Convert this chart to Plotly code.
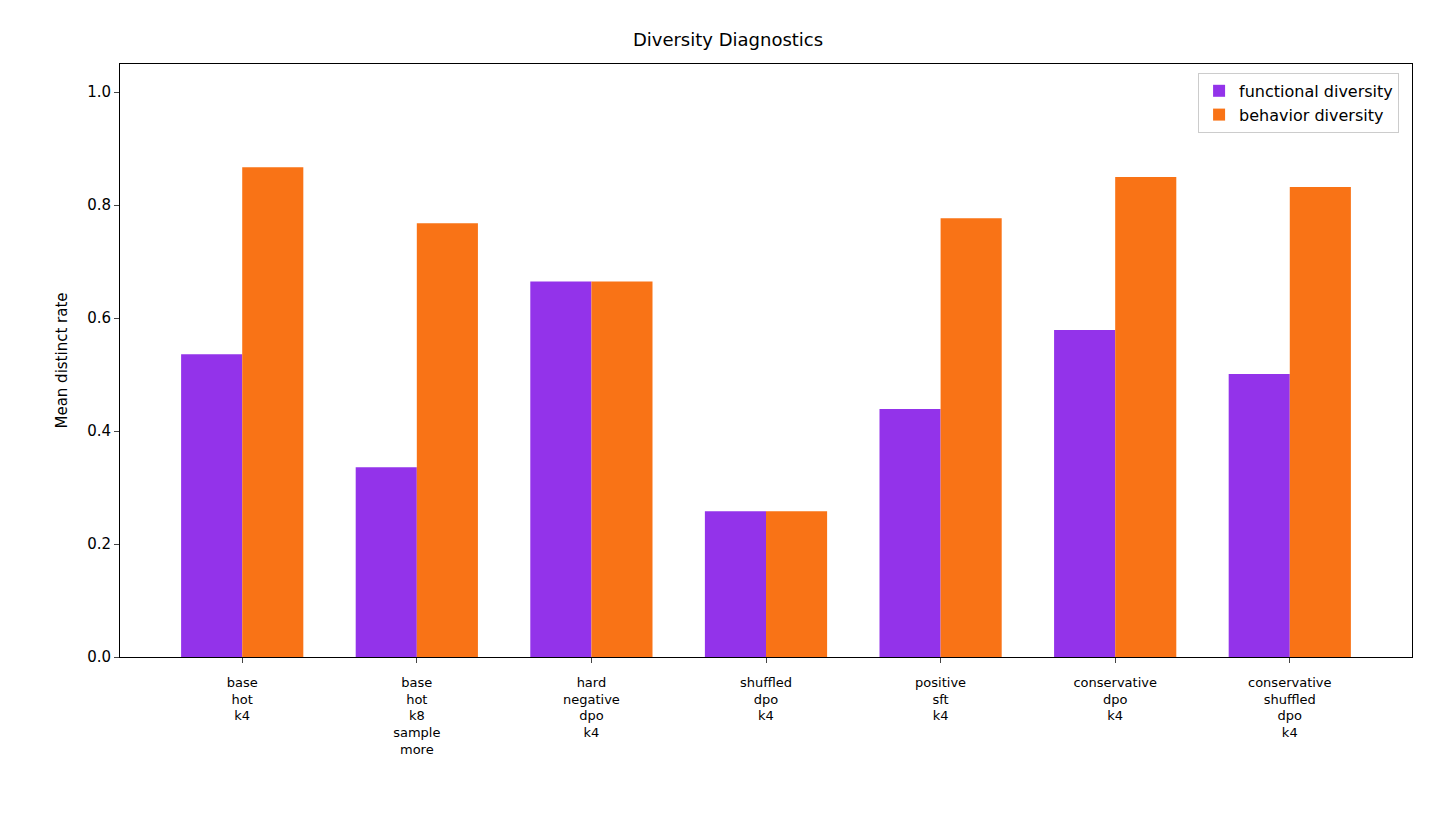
import plotly.graph_objects as go

categories = ["base<br>hot<br>k4", "base<br>hot<br>k8<br>sample<br>more", "hard<br>negative<br>dpo<br>k4",
              "shuffled<br>dpo<br>k4", "positive<br>sft<br>k4", "conservative<br>dpo<br>k4",
              "conservative<br>shuffled<br>dpo<br>k4"]
functional = [0.536, 0.336, 0.665, 0.258, 0.439, 0.579, 0.501]
behavior = [0.867, 0.768, 0.665, 0.258, 0.777, 0.850, 0.832]
yticks = [0.0, 0.2, 0.4, 0.6, 0.8, 1.0]

x = list(range(len(categories)))
fig = go.Figure()
fig.add_bar(x=x, y=functional, name="functional diversity", marker_color="#9333ea", marker_line_width=0)
fig.add_bar(x=x, y=behavior, name="behavior diversity", marker_color="#f97316", marker_line_width=0)

fig.update_layout(
    width=1440, height=827, barmode="group", bargap=0.3, bargroupgap=0,
    paper_bgcolor="white", plot_bgcolor="white",
    font=dict(family="DejaVu Sans", size=15, color="black"),
    margin=dict(l=112, r=36, t=56, b=178),
    title=dict(text="Diversity Diagnostics", x=0.5, xanchor="center", y=0.962, yanchor="middle",
               font=dict(size=18)),
    legend=dict(x=0.99, y=0.985, xanchor="right", yanchor="top", bordercolor="#cccccc",
                borderwidth=1, font=dict(size=16), bgcolor="rgba(255,255,255,0.8)"),
)
fig.update_xaxes(range=[-0.7, 6.7], tickvals=x, ticktext=categories, tickfont=dict(size=13),
                 showline=True, linecolor="black", mirror=True, ticks="outside", ticklen=5,
                 ticklabelstandoff=8, showgrid=False)
fig.update_yaxes(range=[0, 1.05], tickvals=yticks, ticktext=[f"{v:.1f}" for v in yticks],
                 title=dict(text="Mean distinct rate", font=dict(size=15)),
                 showline=True, linecolor="black", mirror=True, ticks="outside", ticklen=5,
                 showgrid=False, zeroline=False)
fig.write_html("out.html")
